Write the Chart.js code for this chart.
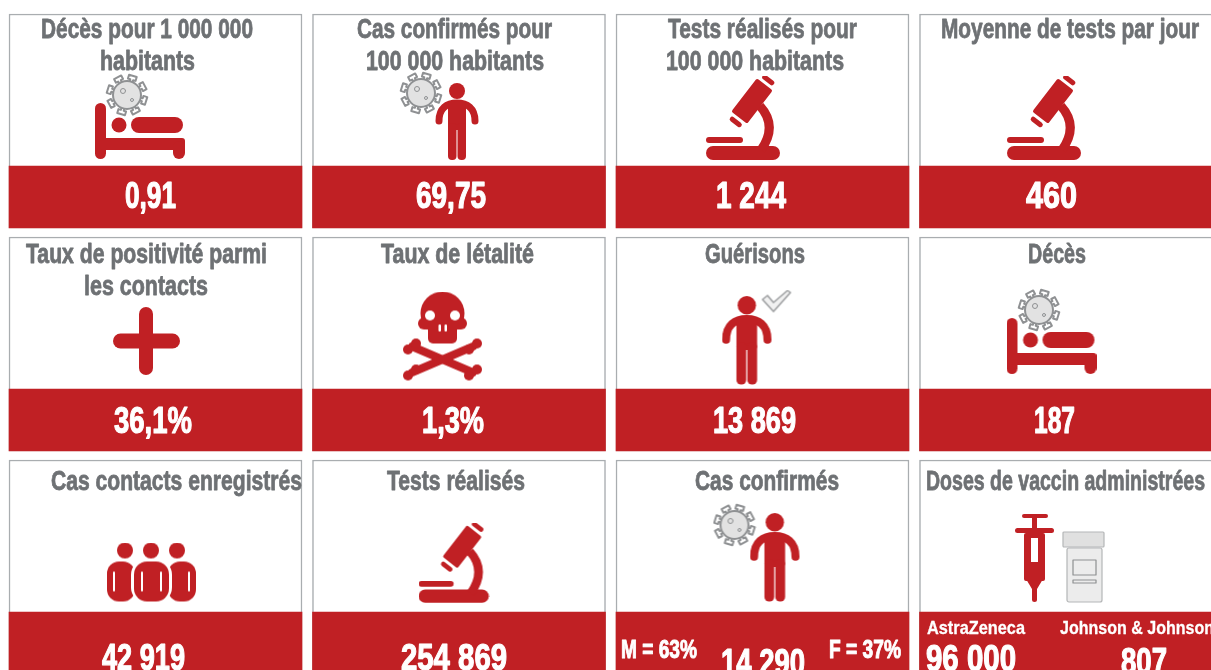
<!DOCTYPE html>
<html>
<head>
<meta charset="utf-8">
<title>Indicateurs COVID-19</title>
<script src="https://cdn.jsdelivr.net/npm/chart.js@4/dist/chart.umd.js"></script>
<style>
html, body { margin: 0; padding: 0; background: #fff; overflow: hidden; }
canvas { display: block; }
</style>
</head>
<body>
<canvas id="tiles" width="1211" height="670"></canvas>
<script>
// data
const tileCols = [0, 1, 2, 3, 0, 1, 2, 3, 0, 1, 2, 3];
const tileRows = [0, 0, 0, 0, 1, 1, 1, 1, 2, 2, 2, 2];
const tileTitles = [
    ["Décès pour 1 000 000", "habitants"],
    ["Cas confirmés pour", "100 000 habitants"],
    ["Tests réalisés pour", "100 000 habitants"],
    ["Moyenne de tests par jour"],
    ["Taux de positivité parmi", "les contacts"],
    ["Taux de létalité"],
    ["Guérisons"],
    ["Décès"],
    ["Cas contacts enregistrés"],
    ["Tests réalisés"],
    ["Cas confirmés"],
    ["Doses de vaccin administrées"]
];
const tileValues = ["0,91", "69,75", "1 244", "460", "36,1%", "1,3%", "13 869", "187", "42 919", "254 869", "14 290", ""];
const sexSplit = ["M = 63%", "F = 37%"];
const vaccineNames = ["AstraZeneca", "Johnson & Johnson"];
const vaccineDoses = ["96 000", "807"];

// layout of the grid, in pixels
const COL_PITCH = 303.5, ROW_PITCH = 223, TILE_W = 293;
const FIRST_COL = 155.5, FIRST_ROW = 14;
const TILE_H = 214, BAND_TOP = 152;
const RED = "#c02024", GREY = "#6e7174", FRAME = "#a9adb0";
const TITLE_FONT = 'bold 27px "Liberation Sans", sans-serif';
const VALUE_FONT = 'bold 37px "Liberation Sans", sans-serif';

// [left, width] of each title line
const titleBoxes = [
    [[41, 212], [100, 95]], [[357, 195], [366, 178]], [[668, 189], [666, 178]], [[941, 258]],
    [[26, 241], [84, 124]], [[381, 153]], [[705, 100]], [[1028, 58]],
    [[51, 251]], [[387, 138]], [[695, 144]], [[926, 279]]
];
// [left, width] of each value
const valueBoxes = [
    [125, 51], [416, 70], [716, 70], [1026, 51],
    [114, 78], [422, 62], [713, 83], [1034, 41],
    [102, 83], [401, 106], [721, 84], null
];
const titleBase = [24, 26, 30];
const valueBase = [194, 196, 210];

function makeIcon(w, h, scale, draw) {
    const c = document.createElement("canvas");
    c.width = Math.ceil(w * scale);
    c.height = Math.ceil(h * scale);
    const g = c.getContext("2d");
    g.scale(scale, scale);
    g.lineCap = "round";
    g.lineJoin = "round";
    g.fillStyle = RED;
    g.strokeStyle = RED;
    draw(g);
    return c;
}

function pill(g, x, y, w, h, r) {
    g.beginPath();
    g.roundRect(x, y, w, h, r);
    g.fill();
}

function drawBed(g) {
    pill(g, 0, 0, 11, 56, 5.5);
    pill(g, 36, 14, 52, 16, 8);
    pill(g, 5, 35, 85, 12, 3);
    pill(g, 78, 38, 12, 18, 6);
    g.beginPath();
    g.arc(24, 22, 7.5, 0, Math.PI * 2);
    g.fill();
}

function drawVirus(g) {
    g.translate(22, 22);
    g.strokeStyle = "#8f9193";
    g.fillStyle = "#e2e2e2";
    g.lineWidth = 2;
    for (let i = 0; i < 8; i++) {
        g.save();
        g.rotate(i * Math.PI / 4 + 0.3);
        g.beginPath();
        g.moveTo(13, -1.5);
        g.lineTo(16, -1.5);
        g.lineTo(16, -4);
        g.lineTo(20, -4);
        g.lineTo(20, 4);
        g.lineTo(16, 4);
        g.lineTo(16, 1.5);
        g.lineTo(13, 1.5);
        g.stroke();
        g.restore();
    }
    g.beginPath();
    g.arc(0, 0, 14, 0, Math.PI * 2);
    g.fill();
    g.stroke();
    g.lineWidth = 1;
    g.beginPath();
    g.arc(-4, -4, 2.5, 0, Math.PI * 2);
    g.stroke();
    g.beginPath();
    g.arc(5, 5, 1.5, 0, Math.PI * 2);
    g.stroke();
}

function drawPerson(g) {
    g.beginPath();
    g.arc(22, 8, 8, 0, Math.PI * 2);
    g.fill();
    g.lineWidth = 7;
    g.beginPath();
    g.moveTo(4, 38);
    g.bezierCurveTo(4, 25, 12, 20, 22, 20);
    g.bezierCurveTo(32, 20, 40, 25, 40, 38);
    g.stroke();
    pill(g, 13, 19, 18, 28, 3);
    pill(g, 13, 40, 8.5, 37, 4);
    pill(g, 22.5, 40, 8.5, 37, 4);
}

function drawMicroscope(g) {
    pill(g, 0, 70, 74, 14, 7);
    pill(g, 0, 61, 37, 6, 3);
    g.lineWidth = 9;
    g.lineCap = "butt";
    g.beginPath();
    g.moveTo(54, 30);
    g.quadraticCurveTo(72, 50, 55, 74);
    g.stroke();
    g.save();
    g.translate(46, 25);
    g.rotate(-Math.PI * 0.29);
    pill(g, -21, -10, 42, 20, 2);
    pill(g, 24, -7, 5, 14, 2.5);
    pill(g, -29, -7, 5, 14, 2.5);
    g.restore();
}

function drawPlus(g) {
    pill(g, 26, 0, 14, 68, 7);
    pill(g, 0, 26.5, 67, 15, 7.5);
}

function drawSkull(g) {
    g.lineWidth = 8;
    const bones = [[9, 55, 70, 81], [70, 55, 9, 81]];
    for (const b of bones) {
        g.beginPath();
        g.moveTo(b[0], b[1]);
        g.lineTo(b[2], b[3]);
        g.stroke();
        for (const e of [[b[0], b[1]], [b[2], b[3]]]) {
            for (const o of [[-4, 3], [4, -3]]) {
                g.beginPath();
                g.arc(e[0] + o[0], e[1] + o[1], 5, 0, Math.PI * 2);
                g.fill();
            }
        }
    }
    g.beginPath();
    g.ellipse(39.5, 22, 22, 22, 0, 0, Math.PI * 2);
    g.fill();
    pill(g, 25, 28, 29, 24, 5);
    pill(g, 15, 26, 49, 12, 6);
    g.fillStyle = "#fff";
    for (const p of [[27, 24, 5], [52, 24, 5]]) {
        g.beginPath();
        g.arc(p[0], p[1], p[2], 0, Math.PI * 2);
        g.fill();
    }
    pill(g, 35.5, 33, 2.5, 7, 1);
    pill(g, 41.5, 33, 2.5, 7, 1);
}

function drawCheck(g) {
    g.beginPath();
    g.moveTo(2, 10);
    g.lineTo(7, 6);
    g.lineTo(13, 13);
    g.lineTo(27, 1);
    g.lineTo(30, 3);
    g.lineTo(13, 22);
    g.closePath();
    g.fillStyle = "#f1f1f1";
    g.strokeStyle = "#9a9c9e";
    g.lineWidth = 1.5;
    g.fill();
    g.stroke();
}

function drawGroup(g) {
    for (const x of [18, 44, 70]) {
        g.beginPath();
        g.arc(x, 8, 8, 0, Math.PI * 2);
        g.fill();
    }
    // side people first, the middle one sits on top with a white halo
    pill(g, 0, 19, 28, 40, 12);
    pill(g, 61, 19, 28, 40, 12);
    g.fillStyle = "#fff";
    pill(g, 24, 17, 41, 43, 15);
    g.fillStyle = RED;
    pill(g, 27, 19, 35, 40, 13);
    g.strokeStyle = "#fff";
    g.lineWidth = 2;
    for (const x of [7, 35, 54, 82]) {
        g.beginPath();
        g.moveTo(x, 30);
        g.lineTo(x, 48);
        g.stroke();
    }
}

function drawSyringe(g) {
    pill(g, 7, 1, 26, 4, 2);
    pill(g, 0, 15, 39, 5, 2.5);
    g.fillRect(17, 4, 5, 12);
    pill(g, 9, 20, 21, 48, 2);
    g.beginPath();
    g.moveTo(11, 66);
    g.lineTo(28, 66);
    g.lineTo(22, 76);
    g.lineTo(17, 76);
    g.closePath();
    g.fill();
    pill(g, 17, 72, 5, 17, 2.5);
    g.fillStyle = "#fff";
    g.fillRect(16, 25, 7, 24);
}

function drawVial(g) {
    g.fillStyle = "#e0e0e0";
    g.strokeStyle = "#b4b6b7";
    g.lineWidth = 1.2;
    g.beginPath();
    g.roundRect(1, 1, 41, 15, 1);
    g.fill();
    g.stroke();
    g.fillStyle = "#ececec";
    g.beginPath();
    g.roundRect(5, 17, 35, 54, 2);
    g.fill();
    g.stroke();
    g.strokeStyle = "#8e9091";
    g.strokeRect(11, 29, 23, 15);
    g.strokeRect(11, 49, 23, 3);
}

const icons = {
    bed: makeIcon(90, 56, 1, drawBed),
    virus: makeIcon(44, 44, 1, drawVirus),
    person: makeIcon(44, 77, 1, drawPerson),
    bigPerson: makeIcon(44, 77, 1.15, drawPerson),
    scope: makeIcon(74, 84, 1, drawMicroscope),
    smallScope: makeIcon(74, 84, 0.95, drawMicroscope),
    plus: makeIcon(67, 68, 1, drawPlus),
    skull: makeIcon(79, 90, 1, drawSkull),
    check: makeIcon(32, 24, 1, drawCheck),
    group: makeIcon(89, 60, 1, drawGroup),
    syringe: makeIcon(39, 89, 1, drawSyringe),
    vial: makeIcon(43, 72, 1, drawVial)
};

// kind, tile index, offset from tile top centre in pixels
const iconPlaces = [
    ["bed", 0, -15.5, 117], ["virus", 0, -28.5, 81],
    ["person", 1, -2, 107.5], ["virus", 1, -38, 79],
    ["scope", 2, -19.5, 104],
    ["scope", 3, -22, 104],
    ["plus", 4, -9, 104],
    ["skull", 5, -16.5, 99.5],
    ["bigPerson", 6, -15.5, 103.5], ["check", 6, 14, 64.5],
    ["bed", 7, -14.5, 109], ["virus", 7, -27, 73],
    ["group", 8, -4, 112.5],
    ["smallScope", 9, -5, 103],
    ["bigPerson", 10, 12.5, 97.5], ["virus", 10, -28, 65],
    ["syringe", 11, -31.5, 97.5], ["vial", 11, 17.5, 107]
];

// squeeze the text into its box, the stroke thickens the stems like the heavy condensed font of the original
function fitText(ctx, text, left, width, base, font, color, weight) {
    ctx.save();
    ctx.font = font;
    ctx.fillStyle = color;
    ctx.strokeStyle = color;
    ctx.lineWidth = weight;
    ctx.lineJoin = "round";
    ctx.textAlign = "left";
    ctx.textBaseline = "alphabetic";
    ctx.translate(left, base);
    ctx.scale(width / ctx.measureText(text).width, 1);
    ctx.fillText(text, 0, 0);
    ctx.strokeText(text, 0, 0);
    ctx.restore();
}

const tileText = {
    id: "tileText",
    afterDatasetsDraw(chart) {
        const ctx = chart.ctx;
        const yScale = chart.scales.y;
        ctx.save();
        tileTitles.forEach(function (lines, i) {
            const top = yScale.getPixelForValue(tileRows[i]);
            lines.forEach(function (line, k) {
                const box = titleBoxes[i][k];
                fitText(ctx, line, box[0], box[1], top + titleBase[tileRows[i]] + k * 32, TITLE_FONT, GREY, 0.8);
            });
            if (valueBoxes[i]) {
                const base = top + valueBase[tileRows[i]] + (i === 10 ? 5 : 0);
                fitText(ctx, tileValues[i], valueBoxes[i][0], valueBoxes[i][1], base, VALUE_FONT, "#fff", 1.2);
            }
        });
        const lastRow = yScale.getPixelForValue(2);
        const smallFont = 'bold 26px "Liberation Sans", sans-serif';
        const nameFont = 'bold 19px "Liberation Sans", sans-serif';
        fitText(ctx, sexSplit[0], 621, 76, lastRow + 198, smallFont, "#fff", 0);
        fitText(ctx, sexSplit[1], 829, 72, lastRow + 198, smallFont, "#fff", 0);
        fitText(ctx, vaccineNames[0], 927, 98, lastRow + 174, nameFont, "#fff", 0.3);
        fitText(ctx, vaccineNames[1], 1060, 154, lastRow + 174, nameFont, "#fff", 0.3);
        fitText(ctx, vaccineDoses[0], 926, 90, lastRow + 211, VALUE_FONT, "#fff", 1.2);
        fitText(ctx, vaccineDoses[1], 1121, 46, lastRow + 214, VALUE_FONT, "#fff", 1.2);
        ctx.restore();
    }
};

const frames = tileCols.map((c, i) => ({ x: c, y: [tileRows[i], tileRows[i] + TILE_H / ROW_PITCH] }));
const bands = tileCols.map((c, i) => ({ x: c, y: [tileRows[i] + BAND_TOP / ROW_PITCH, tileRows[i] + TILE_H / ROW_PITCH] }));
const iconPoints = iconPlaces.map(p => ({
    x: tileCols[p[1]] + p[2] / COL_PITCH,
    y: tileRows[p[1]] + p[3] / ROW_PITCH
}));

new Chart(document.getElementById("tiles").getContext("2d"), {
    type: "bar",
    data: {
        datasets: [
            { label: "icônes", type: "scatter", data: iconPoints, order: 1, pointRadius: 10, pointStyle: iconPlaces.map(p => icons[p[0]]) },
            { label: "valeurs", data: bands, order: 2, backgroundColor: RED, borderWidth: 0, barThickness: TILE_W, grouped: false },
            { label: "cadres", data: frames, order: 3, backgroundColor: "#fff", borderColor: FRAME, borderWidth: 1.5, borderSkipped: false, barThickness: TILE_W, grouped: false }
        ]
    },
    options: {
        responsive: false,
        animation: false,
        layout: { padding: 0, autoPadding: false },
        plugins: { legend: { display: false }, tooltip: { enabled: false } },
        scales: {
            x: { type: "linear", display: false, offset: false, min: -FIRST_COL / COL_PITCH, max: (1211 - FIRST_COL) / COL_PITCH },
            y: { type: "linear", display: false, reverse: true, min: -FIRST_ROW / ROW_PITCH, max: (670 - FIRST_ROW) / ROW_PITCH }
        }
    },
    plugins: [tileText]
});
</script>
</body>
</html>
